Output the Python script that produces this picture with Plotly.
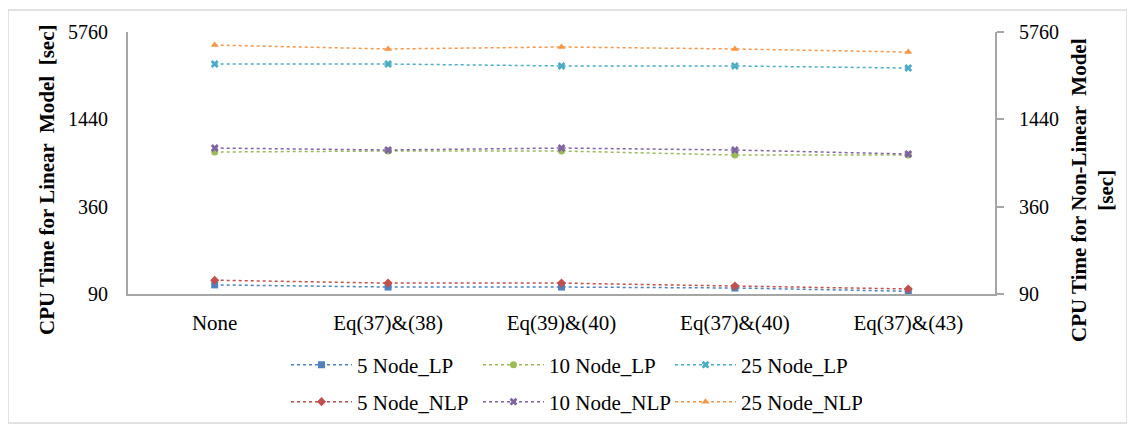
import math
import plotly.graph_objects as go

categories = ["None", "Eq(37)&(38)", "Eq(39)&(40)", "Eq(37)&(40)", "Eq(37)&(43)"]

lp_5 = [104, 100.5, 100.5, 99, 94]
lp_10 = [857, 871, 871, 817, 817]
lp_25 = [3465, 3465, 3360, 3360, 3250]
nlp_5 = [112, 107, 107, 102, 97.5]
nlp_10 = [913, 885, 913, 885, 830]
nlp_25 = [4680, 4400, 4540, 4400, 4190]

y_ticks = [90, 360, 1440, 5760]
y_tick_labels = ["90", "360", "1440", "5760"]

series = [
    ("5 Node_LP", lp_5, "#4F81BD", "square", "y", "legend"),
    ("10 Node_LP", lp_10, "#9BBB59", "circle", "y", "legend"),
    ("25 Node_LP", lp_25, "#4BACC6", "x", "y", "legend"),
    ("5 Node_NLP", nlp_5, "#C0504D", "diamond", "y2", "legend2"),
    ("10 Node_NLP", nlp_10, "#8064A2", "x", "y2", "legend2"),
    ("25 Node_NLP", nlp_25, "#F79646", "triangle-up", "y2", "legend2"),
]

FONT = "Liberation Serif"

fig = go.Figure()
for name, vals, color, sym, ax, lg in series:
    fig.add_trace(go.Scatter(
        x=categories, y=vals, name=name, mode="lines+markers", yaxis=ax,
        legend=lg,
        line=dict(color=color, width=1.5, dash="dot"),
        marker=dict(symbol=sym, size=7, color=color),
    ))

yr = [math.log10(90), math.log10(5760)]

# page body adds an 8px offset; plot area on screen: x 128..995, y 32..294
PX0, PY0, PW, PH = 128, 294, 867, 262

def px(x):
    return (x - PX0) / PW

def py(y):
    return (PY0 - y) / PH

legend_common = dict(
    orientation="h", xanchor="left", yanchor="middle",
    entrywidth=116, entrywidthmode="pixels", itemwidth=61,
    font=dict(family=FONT, size=21), bgcolor="rgba(0,0,0,0)",
)

fig.update_layout(
    width=1135, height=426,
    margin=dict(l=120, r=148, t=24, b=140),
    paper_bgcolor="white", plot_bgcolor="white",
    font=dict(family=FONT, size=20, color="black"),
    showlegend=True,
    legend=dict(x=px(286), y=py(365), **legend_common),
    legend2=dict(x=px(286), y=py(402), **legend_common),
    xaxis=dict(
        type="category", range=[-0.5, 4.5], showgrid=False,
        showline=True, linecolor="#a6a6a6", linewidth=2,
        ticks="", ticklabelstandoff=9, tickfont=dict(size=21),
    ),
    yaxis=dict(
        type="log", range=yr, tickvals=y_ticks, ticktext=y_tick_labels,
        showgrid=False, showline=True, linecolor="#a6a6a6", linewidth=2,
        ticks="", ticklabelstandoff=14, zeroline=False,
    ),
    yaxis2=dict(
        type="log", range=yr, tickvals=y_ticks, ticktext=y_tick_labels,
        overlaying="y", side="right", showgrid=False,
        showline=True, linecolor="#a6a6a6", linewidth=2,
        ticks="outside", ticklen=7, tickcolor="#a6a6a6", tickwidth=1.5,
        ticklabelstandoff=11, zeroline=False,
    ),
    shapes=[dict(
        type="rect", xref="paper", yref="paper",
        x0=px(8), x1=px(1127), y0=py(423), y1=py(10),
        line=dict(color="#d9d9d9", width=1.5),
    )],
    annotations=[
        dict(text="<b>CPU Time for Linear  Model  [sec]</b>", textangle=-90,
             xref="paper", yref="paper", x=px(47), y=py(180),
             xanchor="center", yanchor="middle",
             showarrow=False, font=dict(family=FONT, size=21)),
        dict(text="<b>CPU Time for Non-Linear  Model<br>[sec]</b>", textangle=-90,
             xref="paper", yref="paper", x=px(1092), y=py(190),
             xanchor="center", yanchor="middle",
             showarrow=False, font=dict(family=FONT, size=21)),
    ],
)

fig.write_html("out.html")
